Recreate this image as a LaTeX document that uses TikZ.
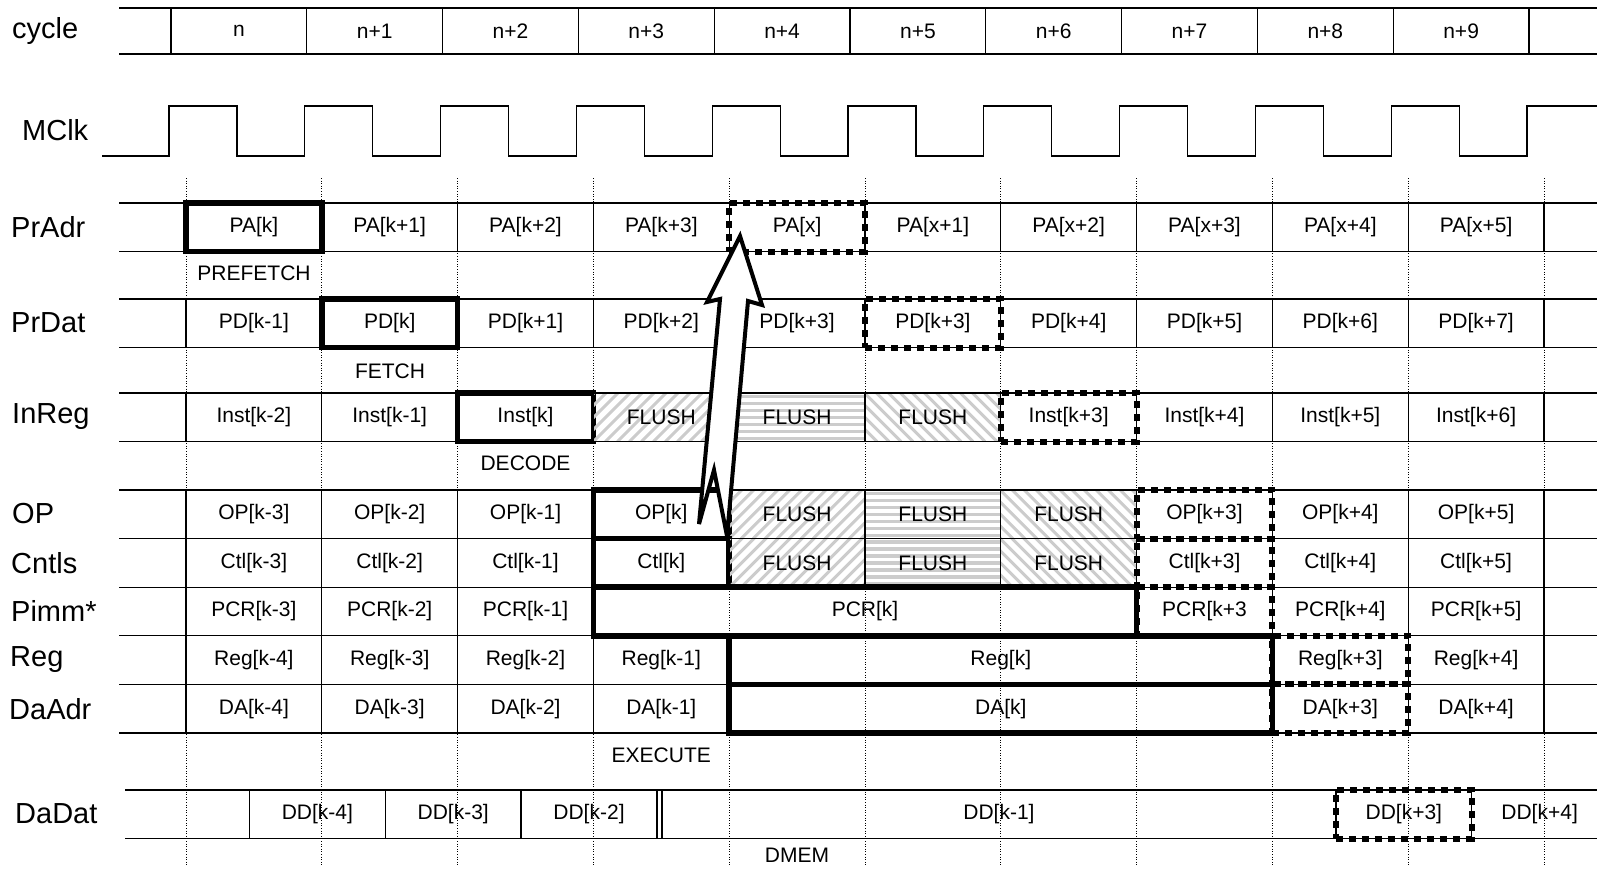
\documentclass[tikz,border=0pt]{standalone}
\usepackage{fontspec}
\setmainfont{Liberation Sans}
\usetikzlibrary{calc}

\newcommand\cellfont{\fontsize{21}{24}\selectfont}
\newcommand\lblfont{\fontsize{29}{32}\selectfont}

\tikzset{
  rowline/.style={line width=1.3pt},
  tickline/.style={line width=0.9pt, dash pattern=on 1pt off 1.6pt},
  wave/.style={line width=1.3pt},
  lbl/.style={font=\lblfont, anchor=west, inner sep=0pt},
  stage/.style={font=\cellfont, inner sep=0pt},
  cell/.style={draw, line width=1.3pt, minimum width=135.8pt, minimum height=48.6pt,
    inner sep=0pt, outer sep=0pt, anchor=north west, font=\cellfont},
  cyc/.style={cell, minimum height=46pt},
  hot/.style={cell, line width=5.5pt},
  nxt/.style={cell, line width=6pt, dash pattern=on 7pt off 6pt},
  hatch/.style={gray!40, line width=3pt},
  fne/.style={cell, path picture={
    \foreach \k in {0,...,17}
      \draw[hatch] ([xshift={\k*12pt-60pt}]path picture bounding box.south west) -- ++(70pt,70pt);}},
  fnw/.style={cell, path picture={
    \foreach \k in {0,...,17}
      \draw[hatch] ([xshift={\k*12pt}]path picture bounding box.south west) -- ++(-70pt,70pt);}},
  fh/.style={cell, path picture={
    \foreach \k in {0,...,7}
      \draw[hatch, line width=3.5pt] ([yshift={\k*7pt+3pt}]path picture bounding box.south west) -- ++(140pt,0pt);}},
  bigarrow/.style={draw, fill=white, line width=4pt, line join=miter},
}

\begin{document}
\begin{tikzpicture}[x=1pt, y=-1pt]
  \useasboundingbox (0,0) rectangle (1597,871);

  % signal names
  \node[lbl] (lcycle) at (12,31)  {cycle};
  \node[lbl] (lclk)   at (22,130) {MClk};
  \node[lbl] (lpa)    at (11,227) {PrAdr};
  \node[lbl] (lpd)    at (11,323) {PrDat};
  \node[lbl] (lin)    at (12,417) {InReg};
  \node[lbl] (lop)    at (12,514) {OP};
  \node[lbl] (lct)    at (11,563) {Cntls};
  \node[lbl] (lpc)    at (11,611) {Pimm*};
  \node[lbl] (lrg)    at (10,660) {Reg};
  \node[lbl] (lda)    at (9,709)  {DaAdr};
  \node[lbl] (ldd)    at (15,814) {DaDat};

  % cycle boundaries
  \foreach \i in {0,...,10}
    \draw[tickline] ({186+135.8*\i},178) -- ({186+135.8*\i},866);

  % row rails
  \foreach \y in {8,54,203,251.6,299,347.6,393,441.6,490,538.6,587.2,635.8,684.4,733}
    \draw[rowline] (119,\y) -- (1597,\y);
  \draw[rowline] (125,790) -- (1597,790) (125,838.6) -- (1597,838.6);

  % cycle numbers
  \foreach \t [count=\i from 0] in {n,n+1,n+2,n+3,n+4,n+5,n+6,n+7,n+8,n+9}
    \node[cyc] (cy\i) at ({171+135.8*\i},8) {\t};

  % clock
  \draw[wave] (102,156) \foreach \i in {0,...,9} {
      -- ({169+135.8*\i},156) -- ({169+135.8*\i},106)
      -- ({237+135.8*\i},106) -- ({237+135.8*\i},156)}
    -- (1527,156) -- (1527,106) -- (1597,106);

  % prefetch address
  \foreach \s/\t [count=\i from 0] in {hot/PA[k],cell/PA[k+1],cell/PA[k+2],cell/PA[k+3],nxt/PA[x],
      cell/PA[x+1],cell/PA[x+2],cell/PA[x+3],cell/PA[x+4],cell/PA[x+5]}
    \node[\s] (pa\i) at ({186+135.8*\i},203) {\t};

  % prefetch data
  \foreach \s/\t [count=\i from 0] in {cell/PD[k-1],hot/PD[k],cell/PD[k+1],cell/PD[k+2],cell/PD[k+3],
      nxt/PD[k+3],cell/PD[k+4],cell/PD[k+5],cell/PD[k+6],cell/PD[k+7]}
    \node[\s] (pd\i) at ({186+135.8*\i},299) {\t};

  % instruction register
  \foreach \s/\t [count=\i from 0] in {cell/Inst[k-2],cell/Inst[k-1],hot/Inst[k],fne/FLUSH,fh/FLUSH,
      fnw/FLUSH,nxt/Inst[k+3],cell/Inst[k+4],cell/Inst[k+5],cell/Inst[k+6]}
    \node[\s] (in\i) at ({186+135.8*\i},393) {\t};

  % opcode and controls
  \foreach \s/\t [count=\i from 0] in {cell/OP[k-3],cell/OP[k-2],cell/OP[k-1],hot/OP[k],fne/FLUSH,
      fh/FLUSH,fnw/FLUSH,nxt/OP[k+3],cell/OP[k+4],cell/OP[k+5]}
    \node[\s] (op\i) at ({186+135.8*\i},490) {\t};
  \foreach \s/\t [count=\i from 0] in {cell/Ctl[k-3],cell/Ctl[k-2],cell/Ctl[k-1],hot/Ctl[k],fne/FLUSH,
      fh/FLUSH,fnw/FLUSH,nxt/Ctl[k+3],cell/Ctl[k+4],cell/Ctl[k+5]}
    \node[\s] (ct\i) at ({186+135.8*\i},538.6) {\t};

  % pc relative
  \foreach \t [count=\i from 0] in {PCR[k-3],PCR[k-2],PCR[k-1]}
    \node[cell] (pc\i) at ({186+135.8*\i},587.2) {\t};
  \node[hot, minimum width=543.2pt] (pc3) at (593.4,587.2) {PCR[k]};
  \node[nxt] (pc7) at (1136.6,587.2) {PCR[k+3};
  \node[cell] (pc8) at (1272.4,587.2) {PCR[k+4]};
  \node[cell] (pc9) at (1408.2,587.2) {PCR[k+5]};

  % register and data address
  \foreach \t [count=\i from 0] in {Reg[k-4],Reg[k-3],Reg[k-2],Reg[k-1]}
    \node[cell] (rg\i) at ({186+135.8*\i},635.8) {\t};
  \node[hot, minimum width=543.2pt] (rg4) at (729.2,635.8) {Reg[k]};
  \node[nxt] (rg8) at (1272.4,635.8) {Reg[k+3]};
  \node[cell] (rg9) at (1408.2,635.8) {Reg[k+4]};
  \foreach \t [count=\i from 0] in {DA[k-4],DA[k-3],DA[k-2],DA[k-1]}
    \node[cell] (da\i) at ({186+135.8*\i},684.4) {\t};
  \node[hot, minimum width=543.2pt] (da4) at (729.2,684.4) {DA[k]};
  \node[nxt] (da8) at (1272.4,684.4) {DA[k+3]};
  \node[cell] (da9) at (1408.2,684.4) {DA[k+4]};

  % data memory
  \foreach \t [count=\i from 0] in {DD[k-4],DD[k-3],DD[k-2]}
    \node[cell] (dd\i) at ({249.5+135.8*\i},790) {\t};
  \node[cell, minimum width=673.9pt] (dd3) at (662,790) {DD[k-1]};
  \node[nxt] (dd4) at (1335.9,790) {DD[k+3]};
  \node[cell] (dd5) at (1471.7,790) {DD[k+4]};

  % stages
  \node[stage] (sprefetch) at (254,273)   {PREFETCH};
  \node[stage] (sfetch)    at (390,371)   {FETCH};
  \node[stage] (sdecode)   at (525.5,463) {DECODE};
  \node[stage] (sexecute)  at (661.3,755) {EXECUTE};
  \node[stage] (sdmem)     at (797,855)   {DMEM};

  % branch back to prefetch
  \coordinate (tip)    at (740,236);
  \coordinate (rbarb)  at (762,305);
  \coordinate (rshaft) at (748,301);
  \coordinate (rprong) at (727,536);
  \coordinate (notch)  at (714,470);
  \coordinate (lprong) at (699,524);
  \coordinate (lshaft) at (720,299);
  \coordinate (lbarb)  at (707,302);
  \draw[bigarrow] (tip) -- (rbarb) -- (rshaft) -- (rprong) -- (notch)
    -- (lprong) -- (lshaft) -- (lbarb) -- cycle;
\end{tikzpicture}
\end{document}
